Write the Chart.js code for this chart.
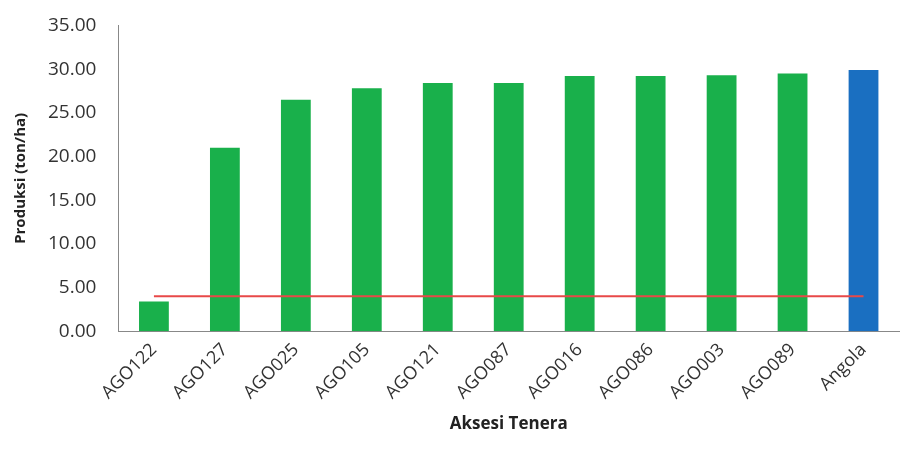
<!DOCTYPE html>
<html>
<head>
<meta charset="utf-8">
<script src="https://cdn.jsdelivr.net/npm/chart.js@4"></script>
<style>
  body { margin: 0; background: #fff; }
  #wrap { width: 901px; height: 452px; }
</style>
</head>
<body>
<div id="wrap"><canvas id="chart"></canvas></div>
<script>
// data
const categories = ['AGO122', 'AGO127', 'AGO025', 'AGO105', 'AGO121', 'AGO087', 'AGO016', 'AGO086', 'AGO003', 'AGO089', 'Angola'];
const produksi = [3.4, 21.0, 26.5, 27.8, 28.4, 28.4, 29.2, 29.2, 29.3, 29.5, 29.9];
const batas = [4.0, 4.0, 4.0, 4.0, 4.0, 4.0, 4.0, 4.0, 4.0, 4.0, 4.0];
const yTicks = [0, 5, 10, 15, 20, 25, 30, 35];

const barColors = categories.map(c => c === 'Angola' ? '#1a6fc1' : '#19b04b');

new Chart(document.getElementById('chart').getContext('2d'), {
    type: 'bar',
    data: {
        labels: categories,
        datasets: [
            {
                type: 'line',
                data: batas,
                borderColor: '#e84848',
                borderWidth: 2,
                pointRadius: 0,
                order: 0
            },
            {
                data: produksi,
                backgroundColor: barColors,
                barPercentage: 0.42,
                categoryPercentage: 1,
                order: 1
            }
        ]
    },
    options: {
        responsive: true,
        maintainAspectRatio: false,
        animation: false,
        layout: { padding: { top: 8, right: 2, left: 8, bottom: 14 } },
        plugins: { legend: { display: false }, tooltip: { enabled: false } },
        scales: {
            x: {
                grid: { display: false, drawTicks: false },
                border: { color: '#888' },
                ticks: { color: '#333', font: { family: 'Open Sans', size: 18 }, maxRotation: 45, minRotation: 45, padding: 8 },
                title: { display: true, text: 'Aksesi Tenera', color: '#222', font: { family: 'Open Sans', size: 17, weight: 'bold' }, padding: { top: 2 } }
            },
            y: {
                min: 0,
                max: 35,
                afterBuildTicks: axis => { axis.ticks = yTicks.map(v => ({ value: v })); },
                grid: { display: false },
                border: { color: '#888' },
                ticks: { color: '#333', font: { family: 'Open Sans', size: 19 }, callback: v => v.toFixed(2), padding: 14 },
                title: { display: true, text: 'Produksi (ton/ha)', color: '#222', font: { family: 'Open Sans', size: 15, weight: 'bold' } }
            }
        }
    }
});
</script>
</body>
</html>
